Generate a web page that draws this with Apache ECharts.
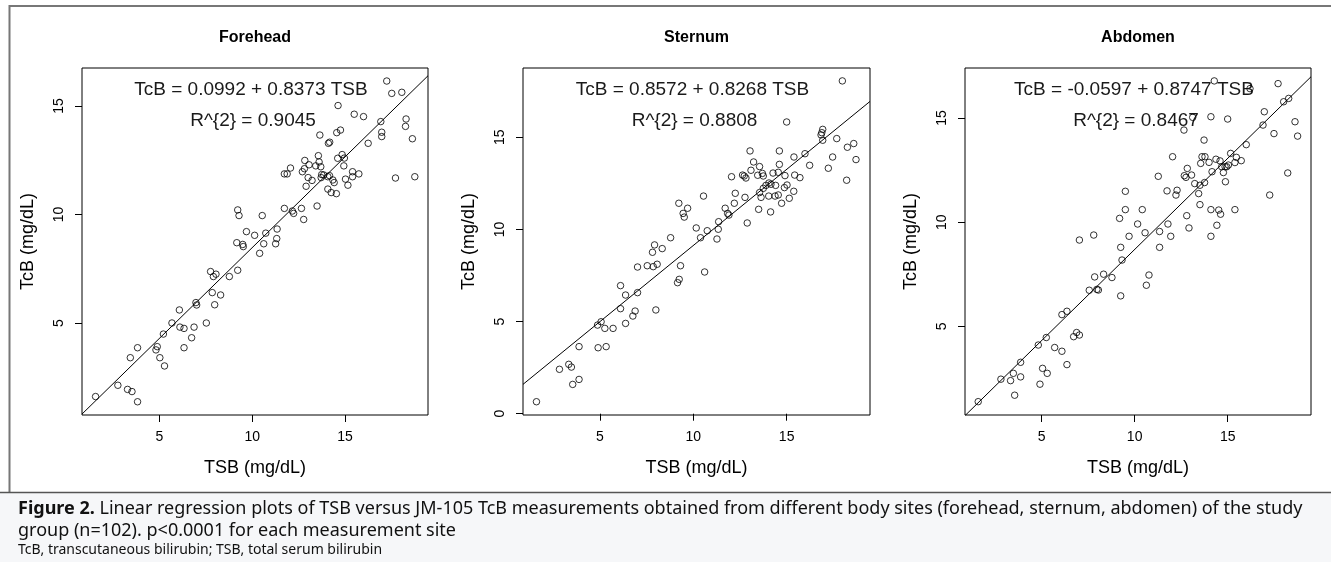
<!DOCTYPE html>
<html>
<head>
<meta charset="utf-8">
<script src="https://cdn.jsdelivr.net/npm/echarts@6/dist/echarts.min.js"></script>
<style>
html,body{margin:0;padding:0;background:#fff;}
#chart{width:1331px;height:562px;}
</style>
</head>
<body>
<div id="chart"></div>
<script>
// ---------- DATA ----------
const panelTitles = ['Forehead', 'Sternum', 'Abdomen'];
const equations = ['TcB = 0.0992 + 0.8373 TSB', 'TcB = 0.8572 + 0.8268 TSB', 'TcB = -0.0597 + 0.8747 TSB'];
const r2Labels = ['R^{2} = 0.9045', 'R^{2} = 0.8808', 'R^{2} = 0.8467'];
const intercepts = [0.0992, 0.8572, -0.0597];
const slopes = [0.8373, 0.8268, 0.8747];
const xTicks = [5, 10, 15];
const yTicksForehead = [5, 10, 15];
const yTicksSternum = [0, 5, 10, 15];
const yTicksAbdomen = [5, 10, 15];
const xLimits = [[0.84, 19.46], [0.89, 19.46], [0.88, 19.48]];
const yLimits = [[0.76, 16.75], [-0.07, 18.76], [0.74, 17.4]];
const xTitle = 'TSB (mg/dL)';
const yTitle = 'TcB (mg/dL)';
const captionLine1 = ' Linear regression plots of TSB versus JM-105 TcB measurements obtained from different body sites (forehead, sternum, abdomen) of the study';
const captionLine2 = 'group (n=102). p<0.0001 for each measurement site';
const captionLine3 = 'TcB, transcutaneous bilirubin; TSB, total serum bilirubin';

// [TSB, TcB]
const foreheadPoints = [
[1.57,1.61],[2.77,2.13],[3.29,1.94],[3.53,1.84],[3.83,1.37],[3.44,3.40],[3.83,3.86],[4.82,3.76],[4.89,3.91],[5.03,3.40],
[5.28,3.02],[5.22,4.49],[5.68,5.00],[6.08,5.60],[6.11,4.81],[6.33,4.75],[6.33,3.86],[6.74,4.32],[6.87,4.81],[6.97,5.94],
[7.01,5.83],[7.53,5.00],[7.76,7.37],[7.91,7.14],[8.05,7.25],[7.85,6.40],[7.98,5.84],[8.30,6.29],[8.77,7.14],[9.22,7.43],
[9.17,8.70],[9.22,10.21],[9.29,9.95],[9.49,8.62],[9.52,8.52],[9.69,9.21],[10.13,9.04],[10.40,8.21],[10.54,9.95],[10.62,8.65],
[10.73,9.14],[11.26,8.65],[11.32,8.89],[11.34,9.33],[11.73,10.28],[12.16,10.16],[12.23,10.05],[12.65,10.28],[12.77,9.77],[13.49,10.39],
[11.73,11.87],[11.88,11.87],[12.06,12.14],[12.70,11.97],[12.81,12.11],[12.83,12.49],[12.90,11.30],[13.06,12.29],[13.01,11.70],[13.22,11.57],
[13.42,12.24],[13.56,12.71],[13.60,12.42],[13.69,12.20],[13.74,11.84],[13.71,11.70],[13.85,11.82],[14.07,11.74],[14.16,11.79],[14.07,11.17],
[14.25,11.01],[14.53,10.96],[14.34,11.59],[14.41,11.47],[13.64,13.66],[14.10,13.28],[14.17,13.33],[14.55,13.77],[14.75,13.89],[14.62,15.02],
[14.60,12.59],[14.84,12.76],[14.96,12.60],[14.93,12.24],[15.02,11.63],[15.15,11.35],[15.40,11.74],[15.40,11.97],[15.74,11.87],[15.49,14.62],
[15.99,14.51],[16.24,13.28],[16.92,14.28],[16.97,13.79],[16.97,13.59],[17.24,16.15],[17.51,15.58],[18.05,15.63],[18.28,14.40],[18.25,14.06],
[18.62,13.49],[17.71,11.68],[18.75,11.74]
];
const sternumPoints = [
[1.61,0.65],[2.84,2.41],[3.34,2.68],[3.48,2.53],[3.55,1.59],[3.89,1.86],[3.89,3.64],[4.91,3.58],[5.34,3.64],[4.88,4.81],
[5.07,4.99],[5.27,4.63],[5.71,4.63],[6.11,6.95],[6.11,5.70],[6.38,6.44],[6.38,4.90],[6.77,5.30],[6.89,5.57],[7.02,6.57],
[7.02,7.96],[7.54,8.03],[7.82,8.76],[7.93,9.16],[7.86,7.98],[8.07,8.11],[8.00,5.63],[8.34,8.96],[8.79,9.55],[9.23,11.42],
[9.16,7.11],[9.25,7.29],[9.32,8.03],[9.46,10.87],[9.52,10.67],[9.70,11.15],[10.16,10.08],[10.39,9.55],[10.61,7.69],[10.55,11.81],
[10.75,9.93],[11.27,9.48],[11.34,10.01],[11.36,10.42],[11.71,11.15],[11.84,10.87],[11.91,10.78],[12.05,12.86],[12.20,11.42],[12.25,11.96],
[12.64,12.95],[12.73,12.90],[12.82,12.79],[12.77,11.74],[12.89,10.35],[13.04,14.26],[13.23,13.66],[13.09,13.21],[13.45,12.94],[13.55,13.41],
[13.70,13.04],[13.75,12.90],[13.50,11.09],[13.55,12.00],[13.63,11.74],[13.75,12.23],[13.89,12.39],[14.05,12.52],[14.04,11.81],[14.14,10.95],
[14.27,13.06],[14.41,12.39],[14.38,11.81],[14.55,11.87],[14.61,14.26],[14.61,13.53],[14.55,13.10],[14.73,11.42],[14.88,12.27],[14.91,12.92],
[15.02,12.41],[15.00,15.83],[15.14,11.69],[15.38,12.07],[15.39,13.93],[15.43,12.95],[15.71,12.81],[15.98,14.11],[16.23,13.48],[16.84,15.13],
[16.93,15.43],[16.93,14.84],[17.23,13.32],[17.46,13.93],[17.68,14.93],[17.98,18.06],[18.21,12.67],[18.25,14.46],[18.59,14.66],[18.71,13.79],
[16.88,15.25],[14.16,12.45]
];
const abdomenPoints = [
[1.59,1.38],[2.81,2.46],[3.33,2.39],[3.48,2.74],[3.55,1.69],[3.87,2.57],[3.87,3.27],[4.82,4.10],[4.91,2.22],[5.05,2.98],
[5.30,2.74],[5.25,4.46],[5.70,3.98],[6.09,3.80],[6.09,5.56],[6.36,5.72],[6.36,3.16],[6.72,4.50],[6.88,4.70],[7.03,4.58],
[7.03,9.14],[7.56,6.73],[7.80,9.38],[7.85,7.37],[7.97,6.77],[8.05,6.74],[8.33,7.50],[8.78,7.34],[9.19,10.18],[9.25,8.79],
[9.25,6.46],[9.32,8.18],[9.50,11.48],[9.50,10.60],[9.70,9.32],[10.16,9.91],[10.41,10.60],[10.56,9.49],[10.63,6.97],[10.77,7.46],
[11.27,12.20],[11.34,9.55],[11.34,8.79],[11.74,11.50],[11.79,9.91],[11.94,9.32],[12.04,13.14],[12.22,11.30],[12.28,11.53],[12.65,14.42],
[12.67,12.23],[12.76,12.15],[12.83,12.58],[12.80,10.31],[12.92,9.72],[13.06,12.26],[13.23,11.85],[13.44,11.37],[13.51,11.77],[13.51,10.84],
[13.55,12.82],[13.62,13.14],[13.73,13.94],[13.78,13.14],[13.76,11.90],[14.00,12.87],[14.10,15.06],[14.10,10.60],[14.10,9.32],[14.16,12.42],
[14.28,16.78],[14.37,13.02],[14.42,9.85],[14.52,10.58],[14.59,12.94],[14.62,10.38],[14.68,12.66],[14.77,12.38],[14.86,12.66],[14.88,11.94],
[14.95,12.66],[15.04,12.74],[15.00,14.95],[15.16,13.30],[15.39,12.86],[15.47,13.11],[15.39,10.60],[15.73,12.95],[16.00,13.72],[16.90,14.66],
[16.97,15.30],[17.26,11.30],[17.49,14.25],[17.71,16.65],[18.01,15.78],[18.28,15.94],[18.23,12.36],[18.62,14.82],[18.76,14.13],[16.20,16.41],
[13.12,15.03]
];

// ---------- LAYOUT ----------
const grids = [
  {left: 82, top: 68, width: 346, height: 347},
  {left: 523, top: 68, width: 347, height: 347},
  {left: 965, top: 68, width: 346, height: 347}
];
const allPoints = [foreheadPoints, sternumPoints, abdomenPoints];
const yTickSets = [yTicksForehead, yTicksSternum, yTicksAbdomen];
const FONT = '"Liberation Sans", Arial, sans-serif';
const CAPFONT = '"Noto Sans", Lato, sans-serif';

const option = {
  animation: false,
  backgroundColor: '#fff',
  grid: grids.map(g => Object.assign({show: true, borderColor: '#000', borderWidth: 1, backgroundColor: 'transparent', containLabel: false}, g)),
  xAxis: grids.map((g, i) => ({
    gridIndex: i, type: 'value', min: xLimits[i][0], max: xLimits[i][1],
    axisLine: {show: false},
    splitLine: {show: false},
    axisTick: {show: true, inside: false, length: 7, lineStyle: {color: '#000', width: 1}, customValues: xTicks},
    axisLabel: {show: true, customValues: xTicks, color: '#000', fontSize: 14, fontFamily: FONT, margin: 15}
  })),
  yAxis: grids.map((g, i) => ({
    gridIndex: i, type: 'value', min: yLimits[i][0], max: yLimits[i][1],
    axisLine: {show: false},
    splitLine: {show: false},
    axisTick: {show: true, inside: false, length: 7, lineStyle: {color: '#000', width: 1}, customValues: yTickSets[i]},
    axisLabel: {show: true, customValues: yTickSets[i], rotate: 90, color: '#000', fontSize: 14, fontFamily: FONT, margin: 16}
  })),
  series: [],
  graphic: []
};

grids.forEach((g, i) => {
  const x0 = xLimits[i][0], x1 = xLimits[i][1];
  option.series.push({
    type: 'line', xAxisIndex: i, yAxisIndex: i, symbol: 'none', clip: true, silent: true,
    lineStyle: {color: '#000', width: 1},
    data: [[x0, intercepts[i] + slopes[i] * x0], [x1, intercepts[i] + slopes[i] * x1]],
    z: 2
  });
  option.series.push({
    type: 'scatter', xAxisIndex: i, yAxisIndex: i, symbol: 'circle', symbolSize: 6.5,
    itemStyle: {color: 'rgba(0,0,0,0)', borderColor: '#000', borderWidth: 1},
    data: allPoints[i], silent: true, z: 3
  });
  const cx = g.left + g.width / 2;
  option.graphic.push(
    {type: 'text', x: cx, y: 38, style: {text: panelTitles[i], font: 'bold 16px ' + FONT, fill: '#000', textAlign: 'center', textVerticalAlign: 'middle'}},
    {type: 'text', x: cx - 4, y: 90, style: {text: equations[i], font: '19px ' + FONT, fill: '#1a1a1a', textAlign: 'center', textVerticalAlign: 'middle'}},
    {type: 'text', x: cx - 2, y: 121, style: {text: r2Labels[i], font: '19px ' + FONT, fill: '#1a1a1a', textAlign: 'center', textVerticalAlign: 'middle'}},
    {type: 'text', x: cx, y: 468, style: {text: xTitle, font: '18px ' + FONT, fill: '#000', textAlign: 'center', textVerticalAlign: 'middle'}},
    {type: 'text', x: g.left - 54, y: g.top + g.height / 2, rotation: Math.PI / 2, style: {text: yTitle, font: '18px ' + FONT, fill: '#000', textAlign: 'center', textVerticalAlign: 'middle'}}
  );
});

// figure frame and caption
option.graphic.push(
  {type: 'rect', shape: {x: 0, y: 493, width: 1331, height: 69}, style: {fill: '#f6f7f9'}, z: -10},
  {type: 'polyline', shape: {points: [[9.5, 492], [9.5, 6], [1331, 6]]}, style: {stroke: '#777', lineWidth: 2, fill: null}},
  {type: 'line', shape: {x1: 0, y1: 492.5, x2: 1331, y2: 492.5}, style: {stroke: '#555', lineWidth: 1.5}},
  {type: 'text', x: 18, y: 509, style: {
    text: '{b|Figure 2.}' + captionLine1,
    font: '18px ' + CAPFONT, fill: '#111', textVerticalAlign: 'middle',
    rich: {b: {fontWeight: 'bold', fontSize: 18, fontFamily: CAPFONT, fill: '#111'}}
  }},
  {type: 'text', x: 18, y: 531, style: {text: captionLine2, font: '18px ' + CAPFONT, fill: '#111', textVerticalAlign: 'middle'}},
  {type: 'text', x: 18, y: 550, style: {text: captionLine3, font: '14px ' + CAPFONT, fill: '#111', textVerticalAlign: 'middle'}}
);

const chart = echarts.init(document.getElementById('chart'), null, {renderer: 'canvas'});
chart.setOption(option);
</script>
</body>
</html>
